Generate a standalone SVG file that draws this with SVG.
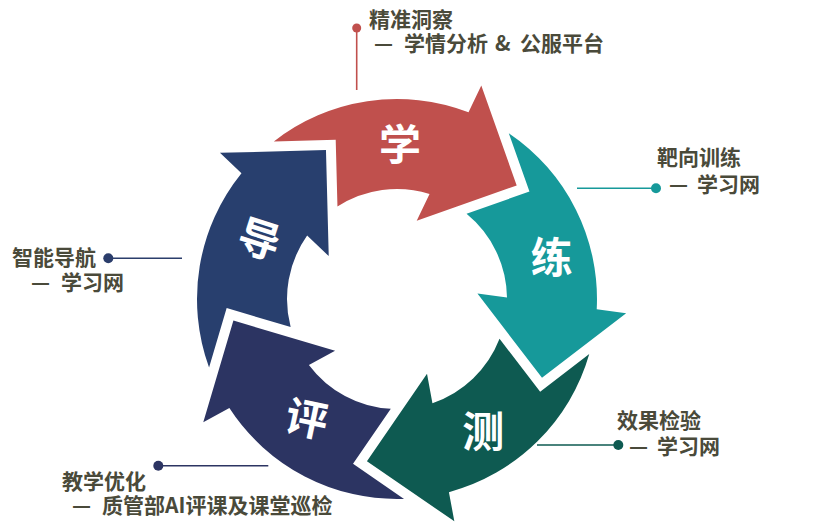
<svg xmlns="http://www.w3.org/2000/svg" xmlns:xlink="http://www.w3.org/1999/xlink" width="831" height="525" viewBox="0 0 831 525">
<style>
.big{font-family:"Noto Sans CJK SC","Noto Sans",sans-serif;font-weight:700;font-size:42px;fill:#ffffff;text-anchor:middle;dominant-baseline:central}
.lbl{font-family:"Noto Sans CJK SC","Noto Sans",sans-serif;font-weight:700;font-size:21px;fill:#4a4a3a}
.ln{stroke-width:1.6;fill:none}
</style>
<defs>
<path id="arrow" d="M273.82,141.43 A200,200 0 0 1 468.51,112.23 L481.29,85.44 L516.69,185.42 L416.71,220.82 L429.55,193.92 A110,110 0 0 0 337.45,206.52 L335.70,139.81 Z"/>
</defs>
<rect width="831" height="525" fill="#ffffff"/>
<g id="connectors">
<line class="ln" x1="356.7" y1="28" x2="356.7" y2="90" stroke="#c0504d"/>
<circle cx="356.7" cy="28" r="4.5" fill="#c0504d"/>
<line class="ln" x1="577" y1="188.3" x2="656" y2="188.3" stroke="#16999a"/>
<circle cx="656" cy="188.3" r="5" fill="#16999a"/>
<line class="ln" x1="108.3" y1="258.3" x2="182" y2="258.3" stroke="#2b3d6b"/>
<circle cx="108.3" cy="258.3" r="5" fill="#2b3d6b"/>
<line class="ln" x1="537" y1="445" x2="618.3" y2="445" stroke="#0e5a51"/>
<circle cx="618.3" cy="445" r="5" fill="#0e5a51"/>
<line class="ln" x1="158.3" y1="465.7" x2="268.3" y2="465.7" stroke="#2c3462"/>
<circle cx="158.3" cy="465.7" r="5" fill="#2c3462"/>
</g>
<g id="node-xue">
<use xlink:href="#arrow" href="#arrow" fill="#c0504d"/>
<text class="big" x="400" y="141.7">学</text>
<text class="lbl" x="369" y="27">精准洞察</text>
<text class="lbl" y="51"><tspan x="374">—</tspan><tspan x="404">学情分析</tspan><tspan x="495">&amp;</tspan><tspan x="520">公服平台</tspan></text>
</g>
<g id="node-lian">
<use xlink:href="#arrow" href="#arrow" fill="#16999a" transform="rotate(72 397 299)"/>
<text class="big" x="551.7" y="254">练</text>
<text class="lbl" x="657" y="165">靶向训练</text>
<text class="lbl" y="192"><tspan x="669">—</tspan><tspan x="697">学习网</tspan></text>
</g>
<g id="node-ce">
<use xlink:href="#arrow" href="#arrow" fill="#0e5a51" transform="rotate(144 397 299)"/>
<text class="big" x="483.3" y="428.3">测</text>
<text class="lbl" x="617" y="428">效果检验</text>
<text class="lbl" y="454"><tspan x="629">—</tspan><tspan x="657">学习网</tspan></text>
</g>
<g id="node-ping">
<use xlink:href="#arrow" href="#arrow" fill="#2c3462" transform="rotate(216 397 299)"/>
<text class="big" x="307.5" y="415.8" transform="rotate(12 307.5 415.8)">评</text>
<text class="lbl" x="62" y="489">教学优化</text>
<text class="lbl" y="513"><tspan x="72">—</tspan><tspan x="102">质管部AI评课及课堂巡检</tspan></text>
</g>
<g id="node-dao">
<use xlink:href="#arrow" href="#arrow" fill="#283f6e" transform="rotate(288 397 299)"/>
<text class="big" x="260.5" y="236.3" transform="rotate(18 260.5 236.3)">导</text>
<text class="lbl" x="12" y="265">智能导航</text>
<text class="lbl" y="290"><tspan x="31">—</tspan><tspan x="61">学习网</tspan></text>
</g>
</svg>
